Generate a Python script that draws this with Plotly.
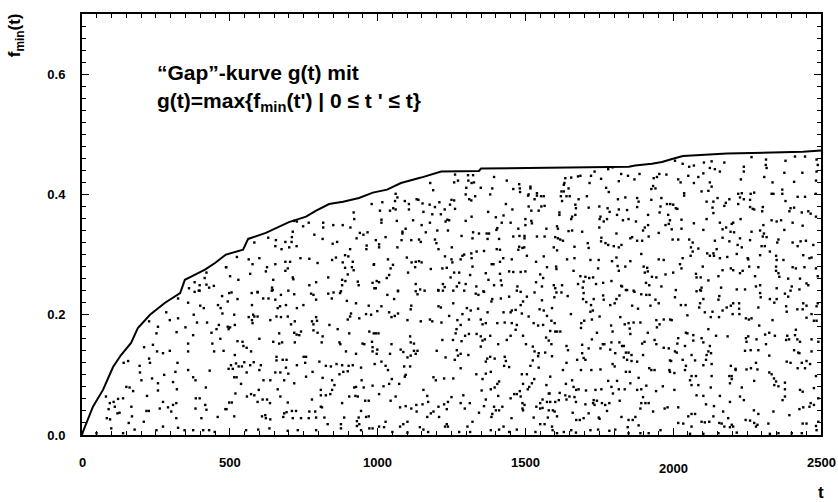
import plotly.graph_objects as go

# Gap curve g(t)
gap_t = [0, 3, 37, 71, 105, 132, 166, 189, 230, 281, 332, 348, 376, 416, 450, 487, 545, 562, 622, 666, 700,
         758, 792, 836, 883, 937, 984, 1032, 1079, 1147, 1184, 1215, 1343, 1350, 1850, 1871, 1928, 1962, 1996,
         2033, 2182, 2317, 2439, 2500]
gap_f = [0.0, 0.005, 0.047, 0.075, 0.113, 0.133, 0.153, 0.178, 0.200, 0.220, 0.236, 0.258, 0.265, 0.275, 0.286,
         0.300, 0.308, 0.326, 0.336, 0.346, 0.354, 0.363, 0.373, 0.384, 0.388, 0.394, 0.403, 0.408, 0.419, 0.428,
         0.433, 0.438, 0.439, 0.443, 0.446, 0.448, 0.451, 0.454, 0.459, 0.464, 0.468, 0.469, 0.471, 0.473]

# f_min(t) points (t, f), read region by region
dots_0_500 = [(381,.238),(398,.240),(359,.220),(325,.227),(474,.231),(460,.216),(469,.211),(475,.202),(400,.215),(412,.211),
 (285,.204),(297,.191),(325,.194),(227,.189),(257,.180),(252,.169),(378,.200),(389,.187),(423,.187),(350,.179),(320,.171),
 (463,.183),(455,.176),(438,.170),(376,.166),(468,.160),(441,.152),(447,.139),(479,.140),(359,.152),(359,.139),(297,.140),
 (274,.136),(254,.139),(210,.146),(240,.150),(227,.127),(230,.120),(156,.123),(141,.120),(323,.120),(316,.105),(359,.108),
 (432,.107),(195,.115),(196,.104),(278,.100),(237,.094),(201,.091),(376,.096),(384,.091),(308,.088),(257,.086),(321,.076),
 (419,.079),(150,.080),(161,.079),(173,.073),(81,.064),(122,.060),(139,.061),(94,.053),(107,.055),(111,.047),(127,.037),
 (120,.036),(90,.043),(167,.047),(220,.065),(257,.074),(274,.055),(263,.044),(291,.046),(302,.039),(308,.050),(319,.053),
 (385,.061),(398,.061),(417,.050),(384,.044),(421,.042),(485,.043),(218,.040),(226,.040),(84,.028),(95,.026),(169,.031),
 (209,.022),(158,.020),(319,.028),(404,.028),(459,.030),(178,.009),(252,.008),(274,.014),(325,.012),(347,.008),(376,.008),
 (410,.008),(430,.008),(449,.005),(99,.011),(139,.003),(49,.003),
 (488,.279),(421,.270),(415,.261),(381,.254),(398,.249),(421,.250),(430,.245),(446,.248),(362,.244),(395,.240)]

dots_500_1000 = [(980,.384),(919,.370),(921,.359),(816,.353),(816,.345),(850,.349),(882,.349),(908,.345),(767,.353),(748,.347),
 (713,.338),(727,.355),(718,.356),(940,.336),(952,.333),(966,.337),(929,.327),(786,.333),(814,.326),(863,.321),(848,.318),
 (710,.329),(688,.321),(709,.321),(656,.324),(654,.314),(630,.328),(583,.320),(675,.309),(701,.312),(726,.314),(963,.315),
 (962,.309),(907,.309),(890,.299),(901,.297),(859,.295),(846,.291),(769,.293),(739,.294),(688,.288),(704,.288),(654,.284),
 (600,.294),(564,.292),(524,.296),(577,.284),(487,.279),(626,.279),(696,.277),(797,.286),(882,.287),(890,.278),(916,.288),
 (913,.279),(919,.274),(987,.283),(622,.272),(688,.273),(569,.268),(501,.264),(529,.258),(713,.262),(715,.259),(647,.258),
 (833,.262),(899,.267),(880,.258),(891,.256),(880,.249),(933,.255),(936,.249),(983,.253),(769,.249),(792,.254),(643,.245),
 (645,.241),(698,.240),(594,.238),(989,.244),
 (498,.236),(506,.237),(574,.236),(594,.237),(642,.240),(673,.233),(718,.234),(775,.235),(783,.233),(833,.235),(851,.237),
 (873,.236),(876,.239),(845,.227),(792,.225),(896,.223),(526,.226),(493,.222),(613,.227),(631,.227),(654,.225),(575,.216),
 (670,.214),(690,.216),(662,.211),(727,.211),(749,.216),(927,.219),(970,.215),(961,.201),(978,.200),(910,.202),(907,.197),
 (899,.192),(938,.194),(792,.196),(795,.190),(778,.189),(783,.184),(837,.183),(720,.189),(707,.184),(696,.197),(673,.196),
 (658,.197),(637,.191),(594,.197),(583,.197),(564,.196),(575,.191),(577,.186),(579,.200),(515,.200),(517,.183),(493,.180),
 (496,.176),(501,.179),(741,.172),(718,.170),(726,.167),(735,.166),(667,.169),(783,.174),(797,.170),(814,.164),(865,.176),
 (904,.169),(972,.172),(987,.169),(600,.160),(526,.156),(543,.155),(546,.148),(557,.145),(572,.139),(647,.155),(667,.152),
 (677,.154),(720,.154),(811,.154),(871,.154),(874,.151),(949,.152),(955,.151),(981,.155),(983,.146),(983,.139),(893,.139),
 (927,.135),(517,.133),(658,.130),(658,.124),(679,.125),(692,.125),(758,.130),(750,.130),(755,.120),(803,.122),(504,.116),
 (496,.110),(510,.110),(521,.119),(530,.114),(541,.114),(549,.121),(569,.116),(581,.121),(605,.116),(600,.108),(690,.112),
 (727,.116),(825,.115),(842,.114),(861,.118),(880,.116),(902,.115),(916,.116),(944,.112),(654,.104),(671,.104),(698,.102),
 (557,.104),(515,.096),(523,.096),(780,.105),(758,.097),(814,.095),(871,.101),(884,.105),(899,.106),(614,.091),(637,.091),
 (684,.091),(846,.091),(946,.091),(538,.085),(718,.086),(854,.083),(921,.079),(927,.080),(953,.079),(983,.082),(662,.076),
 (598,.075),(808,.075),(846,.075),(572,.068),(583,.066),(519,.069),(558,.064),(611,.059),(626,.059),(594,.055),(636,.053),
 (671,.064),(696,.054),(778,.059),(808,.066),(825,.066),(840,.068),(904,.064),(925,.065),(933,.064),(958,.057),(970,.057),
 (498,.054),(507,.054),(880,.053),(489,.043),(808,.047),(812,.046),(710,.040),(724,.040),(692,.038),(684,.036),(769,.039),
 (789,.039),(944,.040),(515,.031),(609,.031),(620,.033),(622,.028),(637,.026),(681,.030),(713,.028),(741,.028),(767,.028),
 (792,.029),(820,.029),(887,.029),(936,.029),(961,.030),(970,.031),(930,.023),(876,.018),(831,.018),(938,.018),(930,.015),
 (555,.008),(596,.009),(634,.011),(696,.007),(730,.008),(792,.008),(876,.011),(944,.008),(972,.011),(983,.011)]

dots_1000_1500 = [(1262,.433),(1306,.432),(1323,.432),(1259,.420),(1272,.423),(1307,.423),(1318,.419),(1326,.420),(1394,.429),
 (1437,.423),(1479,.417),(1481,.410),(1482,.404),(1459,.409),(1388,.410),(1381,.400),(1349,.411),(1300,.411),(1298,.400),
 (1330,.397),(1310,.392),(1317,.390),(1178,.419),(1188,.407),(1061,.401),(1067,.395),(1059,.389),(1016,.387),(1008,.373),
 (1042,.373),(1053,.377),(1061,.375),(1092,.389),(1106,.384),(1106,.375),(1132,.392),(1138,.391),(1152,.385),(1155,.371),
 (1176,.383),(1194,.379),(1185,.367),(1209,.387),(1227,.375),(1245,.383),(1250,.391),(1259,.390),(1262,.376),(1214,.367),
 (1236,.358),(1242,.357),(1230,.355),(1434,.384),(1456,.375),(1426,.365),(1400,.362),(1374,.371),(1318,.363),(1298,.356),
 (1420,.353),(1450,.353),(1013,.358),(1013,.353),(1065,.356),(1120,.357),(1149,.349),(1177,.353),(1095,.343),(1084,.338),
 (1084,.335),(1163,.337),(1202,.340),(1238,.340),(1323,.337),(1343,.335),(1369,.335),(1377,.335),(1402,.341),(1405,.344),
 (1476,.343),(1459,.330),(1480,.331),(1284,.331),(1321,.327),(1372,.326),(1411,.326),(994,.324),(1027,.329),(1081,.324),
 (1114,.324),(1140,.325),(1146,.321),(1194,.325),(1199,.319),(1005,.317),(1005,.312),(1067,.312),(1206,.309),(1251,.312),
 (1293,.300),(1287,.298),(1317,.302),(1335,.305),(1360,.306),(1403,.309),(1414,.308),(1479,.313),(1476,.308),(1490,.311),
 (1228,.297),(1250,.292),(1281,.292),(1318,.294),(1099,.295),(1035,.292),(1115,.287),(1129,.288),(1140,.289),(1149,.287),
 (1253,.287),(1425,.294),(1454,.292),(1414,.288),(1386,.284),(1392,.284),(988,.284),(1052,.283),(1044,.277),(1127,.279),
 (1180,.276),(1219,.277),(1234,.278),(1321,.280),(1259,.270),(1276,.270),(1103,.270),(1313,.266),(1366,.269),(1445,.272),
 (1459,.271),(1484,.271),(1414,.268),(1039,.266),(1031,.261),(1247,.262),(1375,.258),(1417,.257),(997,.256),(1005,.254),
 (1276,.253),(1298,.251),(1129,.251),(1144,.242),(1221,.251),(1227,.246),(1205,.241),(1268,.247),(1394,.249),(1420,.249),
 (1473,.247),(1334,.247),(1069,.240),(994,.244),(1360,.238),(1484,.238),
 (1033,.233),(1069,.239),(1129,.239),(1135,.234),(1159,.240),(1206,.240),(1221,.240),(1256,.240),(1293,.240),(1332,.235),
 (1341,.233),(1358,.239),(1388,.226),(1385,.222),(1417,.227),(1445,.230),(1471,.240),(1056,.226),(1013,.214),(999,.206),
 (1039,.204),(1047,.196),(1058,.198),(1069,.202),(1114,.215),(1112,.209),(1206,.214),(1214,.212),(1256,.219),(1287,.201),
 (1302,.211),(1315,.207),(1340,.210),(1372,.204),(1426,.204),(1450,.204),(1454,.207),(1467,.208),(1484,.216),(1488,.202),
 (1101,.191),(1146,.189),(1177,.192),(1185,.189),(1216,.187),(1242,.198),(1270,.191),(1309,.192),(1349,.192),(1355,.184),
 (1366,.186),(1405,.186),(1430,.187),(1454,.186),(1471,.183),(1467,.175),(1281,.183),(1267,.176),(1264,.169),(1296,.165),
 (1309,.168),(1335,.168),(1349,.164),(1355,.157),(1381,.165),(1363,.159),(1450,.165),(994,.169),(1003,.169),(1110,.164),
 (1112,.154),(1123,.152),(1219,.158),(1255,.158),(1284,.156),(1408,.151),(1437,.158),(1349,.147),(1047,.151),(1078,.142),
 (1087,.138),(1123,.140),(1135,.140),(1129,.135),(1101,.129),(1112,.132),(999,.142),(997,.135),(1042,.135),(1200,.140),
 (1268,.141),(1272,.132),(1281,.135),(1230,.129),(1261,.125),(1307,.133),(1371,.127),(1381,.130),(1396,.127),(1366,.122),
 (1430,.130),(1434,.123),(1428,.115),(1445,.113),(1488,.101),(990,.118),(1013,.122),(1027,.115),(1035,.108),(1090,.114),
 (1110,.114),(1095,.100),(1092,.097),(1048,.093),(1073,.085),(1039,.085),(1020,.081),(1005,.068),(1189,.096),(1197,.091),
 (1225,.094),(1256,.094),(1281,.111),(1334,.101),(1366,.102),(1383,.105),(1355,.093),(1411,.089),(1405,.085),(1396,.079),
 (1383,.076),(1352,.074),(1155,.075),(1168,.065),(1171,.055),(1061,.064),(1044,.057),(1076,.046),(1095,.048),(1114,.044),
 (1131,.050),(1152,.051),(1132,.039),(1189,.039),(1180,.036),(1168,.030),(1206,.047),(1225,.051),(1238,.055),(1250,.063),
 (1234,.043),(1208,.030),(1281,.053),(1290,.066),(1295,.044),(1312,.053),(1343,.037),(1360,.048),(1366,.059),(1394,.047),
 (1400,.041),(1385,.030),(1388,.035),(1408,.065),(1411,.041),(1422,.047),(1450,.061),(1462,.068),(1471,.068),(1481,.073),
 (1484,.064),(1490,.053),(1490,.044),(1453,.028),(1027,.022),(1101,.022),(1087,.018),(1076,.014),(1143,.013),(1234,.018),
 (1228,.014),(1238,.014),(1304,.014),(1321,.022),(1005,.014),(1022,.013),(1050,.005),(1101,.004),(1155,.009),(1171,.005),
 (1276,.005),(1313,.005),(1383,.008),(1411,.009),(1426,.014),(1445,.005),(1471,.009)]

dots_1500_2000 = [(1795,.445),(1780,.442),(1734,.438),(1824,.434),(1847,.431),(1886,.434),(1869,.425),(1816,.422),(1953,.434),
 (1934,.427),(1945,.429),(1977,.433),(1932,.414),(1940,.410),(1926,.409),(1686,.431),(1678,.430),(1655,.428),(1635,.427),
 (1632,.419),(1630,.416),(1646,.410),(1630,.405),(1622,.405),(1717,.419),(1722,.431),(1756,.426),(1773,.411),(1782,.404),
 (1517,.413),(1517,.410),(1511,.400),(1509,.398),(1539,.402),(1539,.398),(1553,.397),(1562,.397),(1531,.392),(1620,.397),
 (1639,.397),(1650,.397),(1624,.389),(1708,.397),(1680,.392),(1813,.392),(1838,.395),(1878,.394),(1883,.388),(1926,.391),
 (1960,.394),(1979,.384),(1990,.384),(1957,.380),(1954,.370),(1565,.381),(1554,.380),(1545,.373),(1520,.373),(1511,.380),
 (1669,.383),(1671,.377),(1714,.378),(1750,.380),(1778,.377),(1785,.371),(1816,.375),(1844,.374),(1878,.379),(1615,.370),
 (1615,.366),(1669,.366),(1658,.363),(1655,.359),(1754,.363),(1751,.359),(1776,.359),(1765,.355),(1810,.366),(1830,.357),
 (1849,.359),(1874,.355),(1915,.366),(1983,.366),(1500,.359),(1520,.356),(1522,.352),(1500,.349),(1607,.347),(1610,.343),
 (1571,.343),(1646,.339),(1658,.340),(1692,.338),(1750,.345),(1808,.335),(1898,.340),(1904,.345),(1915,.349),(1974,.349),
 (1985,.351),(1951,.336),(1497,.331),(1497,.327),(1539,.330),(1565,.330),(1601,.329),(1610,.327),(1618,.325),(1627,.323),
 (1757,.328),(1756,.322),(1711,.319),(1771,.319),(1780,.316),(1799,.314),(1816,.312),(1825,.316),(1855,.327),(1861,.329),
 (1878,.323),(1917,.330),(1895,.323),(1496,.312),(1596,.312),(1666,.313),(1714,.311),(1607,.307),(1892,.301),(1505,.298),
 (1562,.297),(1641,.292),(1666,.294),(1720,.291),(1748,.291),(1793,.289),(1808,.295),(1855,.289),(1951,.292),(1968,.291),
 (1536,.288),(1604,.280),(1605,.276),(1573,.279),(1663,.273),(1746,.277),(1812,.281),(1816,.273),(1838,.280),(1900,.280),
 (1912,.278),(1914,.272),(1904,.270),(1974,.267),(1500,.272),(1550,.267),(1560,.261),(1686,.264),(1703,.263),(1716,.261),
 (1729,.262),(1697,.255),(1678,.251),(1739,.251),(1763,.253),(1791,.256),(1824,.248),(1827,.247),(1908,.253),(1919,.249),
 (1928,.263),(1943,.262),(1960,.247),(1536,.254),(1596,.249),(1601,.244),(1624,.249),(1694,.245),(1556,.247),(1844,.241),
 (1869,.238),
 (1531,.237),(1505,.230),(1492,.222),(1605,.237),(1622,.237),(1598,.229),(1643,.231),(1697,.236),(1695,.226),(1706,.221),
 (1731,.226),(1763,.232),(1765,.225),(1808,.226),(1818,.232),(1787,.216),(1802,.219),(1840,.241),(1866,.240),(1892,.234),
 (1909,.233),(1920,.233),(1861,.215),(1881,.210),(1923,.215),(1940,.225),(1951,.219),(1556,.224),(1548,.209),(1562,.207),
 (1590,.211),(1722,.216),(1720,.205),(1728,.207),(1511,.197),(1573,.198),(1654,.201),(1751,.197),(1821,.196),(1528,.186),
 (1543,.182),(1560,.183),(1588,.190),(1599,.186),(1699,.190),(1689,.186),(1725,.192),(1688,.178),(1790,.182),(1836,.184),
 (1849,.186),(1866,.187),(1889,.187),(1943,.191),(1968,.192),(1990,.192),(1945,.179),(1954,.184),(1601,.172),(1607,.172),
 (1618,.172),(1584,.173),(1492,.165),(1570,.162),(1579,.157),(1742,.170),(1795,.172),(1853,.177),(1855,.168),(1914,.170),
 (1937,.158),(1725,.159),(1502,.151),(1525,.147),(1588,.151),(1639,.148),(1692,.150),(1762,.151),(1767,.151),(1791,.154),
 (1818,.154),(1827,.148),(1833,.148),(1895,.152),(1903,.155),(1943,.151),(1968,.145),(1985,.144),(1531,.139),(1545,.136),
 (1567,.137),(1590,.131),(1644,.141),(1692,.136),(1714,.144),(1697,.128),(1703,.125),(1754,.144),(1787,.142),(1804,.136),
 (1840,.137),(1849,.137),(1833,.129),(1844,.125),(1859,.123),(1859,.133),(1898,.133),(1878,.122),(1525,.124),(1543,.131),
 (1639,.120),(1675,.125),(1517,.115),(1545,.112),(1627,.108),(1688,.108),(1723,.108),(1754,.109),(1795,.118),(1802,.114),
 (1840,.105),(1853,.105),(1919,.111),(1926,.108),(1937,.108),(1987,.108),(1993,.123),(1505,.101),(1584,.097),(1883,.095),
 (1530,.093),(1658,.091),(1780,.090),(1810,.090),(1522,.086),(1637,.085),(1571,.083),(1492,.085),(1513,.080),(1508,.076),
 (1663,.080),(1680,.076),(1672,.075),(1705,.074),(1737,.075),(1757,.076),(1791,.080),(1855,.086),(1909,.082),(1878,.075),
 (1892,.076),(1816,.076),(1836,.076),(1942,.073),(1965,.081),(1579,.069),(1616,.070),(1635,.066),(1649,.064),(1666,.063),
 (1639,.059),(1796,.069),(1819,.057),(1898,.063),(1558,.059),(1573,.055),(1584,.055),(1601,.055),(1613,.058),(1582,.069),
 (1731,.058),(1742,.057),(1729,.053),(1734,.050),(1759,.053),(1770,.050),(1784,.053),(1703,.051),(1671,.055),(1550,.053),
 (1537,.047),(1550,.044),(1558,.045),(1497,.050),(1492,.041),(1579,.041),(1593,.041),(1599,.039),(1660,.037),(1714,.036),
 (1776,.040),(1892,.053),(1906,.053),(1917,.053),(1889,.044),(1932,.039),(1971,.044),(1981,.046),(1528,.029),(1576,.029),
 (1607,.031),(1672,.025),(1684,.025),(1697,.028),(1748,.029),(1751,.027),(1825,.030),(1849,.025),(1863,.025),(1872,.030),
 (1550,.018),(1565,.018),(1590,.014),(1846,.013),(1883,.016),(1534,.005),(1592,.008),(1607,.003),(1630,.005),(1655,.008),
 (1671,.004),(1720,.008),(1746,.009),(1784,.007),(1804,.009),(1849,.003),(1889,.003),(1917,.003),(1957,.008)]

dots_2000_2500 = [(2006,.456),(2032,.451),(2054,.446),(2070,.448),(2104,.453),(2130,.455),(2173,.453),(2239,.446),(2239,.438),
 (2265,.462),(2314,.458),(2313,.449),(2316,.444),(2380,.456),(2412,.463),(2446,.463),(2485,.458),(2489,.449),(2376,.436),
 (2437,.436),(2485,.438),(2483,.423),(2124,.444),(2141,.442),(2158,.438),(2102,.435),(2051,.431),(2085,.429),(2017,.425),
 (2025,.420),(2070,.419),(2124,.420),(2130,.413),(2229,.425),(2308,.429),(2336,.420),(2409,.421),(2119,.406),(2096,.405),
 (2037,.402),(2037,.398),(2220,.401),(2232,.402),(2226,.395),(2239,.392),(2262,.401),(2274,.403),(2333,.401),(2339,.401),
 (2369,.408),(2369,.401),(2421,.396),(2446,.396),(2482,.401),(2380,.389),(2190,.392),(2178,.386),(2150,.394),(2136,.388),
 (2113,.388),(2260,.391),(2220,.384),(2173,.381),(2000,.383),(2009,.377),(2014,.376),(2133,.378),(2260,.379),(2269,.376),
 (2274,.375),(2303,.379),(2301,.372),(2397,.377),(2393,.372),(2409,.378),(2435,.370),(2457,.372),(2465,.368),(2483,.363),
 (2136,.369),(2113,.359),(2228,.359),(2158,.353),(2198,.351),(2203,.353),(2179,.345),(2167,.342),(1989,.357),(2028,.358),
 (2070,.352),(2102,.341),(2333,.357),(2350,.355),(2365,.357),(2305,.349),(2404,.353),(2438,.348),(2376,.341),(1995,.342),
 (2028,.343),(2194,.338),(2206,.337),(2265,.338),(2294,.340),(2303,.330),(2316,.329),(2307,.335),(1998,.325),(2017,.325),
 (2054,.325),(2066,.320),(2141,.323),(2167,.328),(2190,.322),(2226,.327),(2260,.324),(2218,.316),(2232,.312),(2299,.314),
 (2310,.314),(2356,.325),(2352,.320),(2404,.320),(2421,.314),(2431,.322),(2449,.323),(2474,.316),(2060,.312),(2066,.305),
 (2059,.298),(2085,.310),(2115,.302),(2124,.298),(2136,.302),(2138,.298),(2147,.309),(2158,.294),(2183,.296),(2215,.301),
 (2252,.294),(2254,.292),(2294,.299),(2327,.305),(2348,.298),(2350,.291),(2373,.291),(2440,.299),(2461,.294),(2468,.295),
 (2032,.294),(2023,.284),(2028,.277),(2000,.270),(2100,.280),(2167,.274),(2195,.277),(2203,.274),(2226,.269),(2235,.273),
 (2257,.280),(2288,.279),(2348,.280),(2348,.273),(2356,.269),(2359,.263),(2404,.279),(2415,.277),(2444,.279),(2483,.277),
 (2489,.264),(2077,.268),(2079,.262),(2093,.262),(2119,.257),(2153,.264),(2277,.264),(2389,.260),(2429,.260),(2451,.252),
 (2096,.245),(2091,.241),(2162,.245),(2215,.242),(2243,.242),(2280,.247),(2294,.249),(2350,.244),(2401,.247),(2427,.242),
 (2457,.249),(2009,.241),
 (2079,.239),(2094,.240),(2102,.226),(2006,.229),(2156,.231),(2153,.225),(2203,.219),(2195,.215),(2181,.212),(2223,.219),
 (2223,.210),(2288,.212),(2294,.236),(2296,.229),(2327,.226),(2350,.226),(2342,.220),(2378,.235),(2389,.230),(2397,.240),
 (2382,.214),(2384,.205),(2420,.209),(2440,.219),(2451,.215),(2485,.214),(2489,.219),(2438,.209),(2468,.201),(2476,.190),
 (2485,.190),(2451,.195),(2026,.216),(2042,.216),(2048,.199),(2091,.219),(2088,.212),(2107,.204),(2133,.205),(2167,.207),
 (2201,.201),(2224,.201),(2127,.196),(2155,.196),(2246,.194),(2256,.192),(2265,.194),(2291,.182),(2336,.191),(1995,.191),
 (2119,.176),(2043,.170),(2048,.169),(2068,.166),(2096,.161),(2102,.154),(2017,.161),(2014,.152),(2040,.148),(2068,.157),
 (2124,.148),(2119,.139),(2128,.136),(2113,.133),(2145,.165),(2184,.164),(2248,.155),(2254,.164),(2246,.161),(2282,.159),
 (2262,.141),(2243,.140),(2288,.141),(2311,.167),(2325,.170),(2344,.165),(2314,.151),(2325,.132),(2386,.165),(2382,.158),
 (2392,.159),(2415,.175),(2412,.166),(2420,.159),(2429,.155),(2468,.159),(2491,.155),(2409,.141),(2423,.137),(2427,.136),
 (2468,.139),(2451,.123),(2463,.118),(2435,.120),(2421,.111),(2446,.111),(2006,.139),(2012,.137),(2062,.133),(2111,.125),
 (2130,.118),(2102,.116),(2032,.125),(2074,.124),(1989,.124),(2043,.115),(2040,.108),(1989,.105),(2004,.103),(2062,.098),
 (2077,.098),(2057,.091),(2062,.083),(2085,.083),(2130,.098),(2127,.079),(2190,.098),(2198,.098),(2195,.115),(2211,.110),
 (2211,.108),(2248,.109),(2263,.111),(2285,.109),(2280,.120),(2198,.093),(2192,.086),(2232,.079),(2274,.090),(2325,.104),
 (2333,.101),(2341,.094),(2348,.089),(2342,.083),(2356,.081),(2378,.087),(2378,.076),(2370,.058),(2378,.064),(2384,.122),
 (2397,.120),(2429,.075),(2438,.072),(2483,.098),(2476,.078),(2491,.061),(2476,.050),(2465,.053),(2461,.047),(2440,.046),
 (2427,.043),(2393,.033),(2339,.039),(2288,.035),(2273,.041),(2226,.064),(2239,.058),(2192,.055),(2138,.048),(2111,.051),
 (2158,.065),(2102,.065),(2079,.066),(2004,.075),(2017,.046),(2051,.031),(2062,.035),(2074,.035),(2136,.031),(2169,.039),
 (2186,.028),(2156,.020),(2164,.019),(2173,.014),(2192,.013),(2198,.017),(2203,.014),(2245,.025),(2260,.024),(2274,.020),
 (2285,.017),(2322,.019),(2280,.014),(2017,.020),(2034,.019),(2096,.022),(2107,.021),(2122,.022),(2062,.014),(2438,.019),
 (2451,.019),(2483,.015),(2485,.008),(2491,.022),(2356,.003),(2401,.003),(2435,.003),(2057,.002),(2102,.002),(2153,.003),
 (2215,.004),(2327,.002)]

x_tick_vals = [0, 500, 1000, 1500, 2000, 2500]
x_tick_text = ["0", "500", "1000", "1500", "2000", "2500"]
y_tick_vals = [0.0, 0.2, 0.4, 0.6]
y_tick_text = ["0.0", "0.2", "0.4", "0.6"]

FONT = "Liberation Sans, Arial, Helvetica, sans-serif"

all_dots = dots_0_500 + dots_500_1000 + dots_1000_1500 + dots_1500_2000 + dots_2000_2500
dot_t = [p[0] for p in all_dots]
dot_f = [p[1] for p in all_dots]

fig = go.Figure()
fig.add_trace(go.Scatter(x=dot_t, y=dot_f, mode="markers",
                         marker=dict(symbol="square", size=2.4, color="black", line=dict(width=0)),
                         hoverinfo="skip"))
fig.add_trace(go.Scatter(x=gap_t, y=gap_f, mode="lines",
                         line=dict(color="black", width=2), hoverinfo="skip"))

axis_common = dict(showgrid=False, zeroline=False, showline=True, linecolor="black", linewidth=2,
                   mirror="ticks", ticks="inside", tickcolor="black", tickwidth=1.2)

fig.update_xaxes(range=[0, 2500], tickvals=x_tick_vals, showticklabels=False, ticklen=7,
                 minor=dict(ticks="inside", ticklen=4, dtick=50, tick0=0, tickcolor="black", tickwidth=1,
                            showgrid=False),
                 **axis_common)
fig.update_yaxes(range=[0, 0.7], tickvals=y_tick_vals,
                 ticktext=["<b>%s</b>" % s for s in y_tick_text],
                 tickfont=dict(family=FONT, size=13, color="black"), ticklen=7, ticklabelstandoff=12,
                 minor=dict(ticks="inside", ticklen=4, dtick=0.02, tick0=0, tickcolor="black", tickwidth=1,
                            showgrid=False),
                 **axis_common)

annotations = []
for v, s in zip(x_tick_vals, x_tick_text):
    annotations.append(dict(x=v, y=0, xref="x", yref="paper", text="<b>%s</b>" % s, showarrow=False,
                            xanchor="center", yanchor="middle", yshift=-33 if s == "2000" else -27,
                            font=dict(family=FONT, size=13, color="black")))
annotations.append(dict(x=2500, y=0, xref="x", yref="paper", text="<b>t</b>", showarrow=False,
                        xanchor="center", yanchor="middle", yshift=-57,
                        font=dict(family=FONT, size=17, color="black")))
annotations.append(dict(x=-0.089, y=0.95, xref="paper", yref="paper", text="<b>f<sub>min</sub>(t)</b>",
                        showarrow=False, textangle=-90, xanchor="center", yanchor="middle",
                        font=dict(family=FONT, size=17, color="black")))
annotations.append(dict(x=0.099, y=0.862, xref="paper", yref="paper",
                        text="<b>\u201cGap\u201d-kurve g(t) mit</b>", showarrow=False,
                        xanchor="left", yanchor="middle", font=dict(family=FONT, size=21, color="black")))
annotations.append(dict(x=0.099, y=0.79, xref="paper", yref="paper",
                        text="<b>g(t)=max{f<sub>min</sub>(t') | 0 \u2264 t ' \u2264 t}</b>", showarrow=False,
                        xanchor="left", yanchor="middle", font=dict(family=FONT, size=21, color="black")))

fig.update_layout(width=838, height=502, margin=dict(l=82, r=17, t=14, b=67),
                  plot_bgcolor="white", paper_bgcolor="white", showlegend=False,
                  annotations=annotations)

fig.write_html("out.html")
